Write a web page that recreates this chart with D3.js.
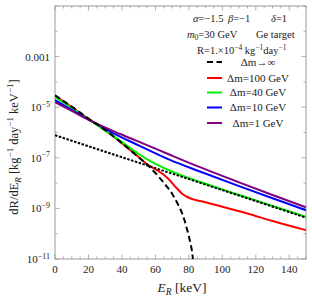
<!DOCTYPE html>
<html>
<head>
<meta charset="utf-8">
<script src="https://cdn.jsdelivr.net/npm/d3@7/dist/d3.min.js"></script>
<style>
html,body{margin:0;padding:0;background:#fff;}
svg{display:block;font-family:"Liberation Serif","DejaVu Serif",serif;}
</style>
</head>
<body>
<svg id="chart" width="312" height="299"></svg>
<script>
// ---- data ----
const xTicks = [0, 20, 40, 60, 80, 100, 120, 140];
const yTickExps = [-11, -9, -7, -5, -3];
const yTickLabels = ["10|−11", "10|−9", "10|−7", "10|−5", "0.001"];

// black dashed: Δm→∞
const E_inf    = [0, 10, 20, 30, 40, 50, 56, 62, 67, 70, 73, 76, 79, 81, 82, 82.7];
const rate_inf = [2.95e-5, 1.05e-5, 3.55e-6, 1.26e-6, 3.8e-7, 1.05e-7, 4.7e-8, 1.78e-8, 7.1e-9, 3.8e-9, 1.66e-9, 6.3e-10, 1.41e-10, 4.0e-11, 1.78e-11, 6.3e-12];

// black dotted reference curve
const E_dot    = [0, 30, 60, 90, 120, 150];
const rate_dot = [7.8e-7, 1.74e-7, 3.9e-8, 8.7e-9, 1.95e-9, 4.3e-10];

// red: Δm=100 GeV
const E_100    = [0, 10, 20, 30, 40, 50, 56, 60, 64, 68, 72, 76, 80, 84, 88, 100, 115, 130, 150];
const rate_100 = [2.82e-5, 1.0e-5, 3.47e-6, 1.23e-6, 3.8e-7, 1.07e-7, 5.0e-8, 3.55e-8, 2.4e-8, 1.41e-8, 7.1e-9, 3.8e-9, 2.63e-9, 2.14e-9, 1.86e-9, 1.17e-9, 6.3e-10, 3.16e-10, 1.38e-10];

// green: Δm=40 GeV
const E_40    = [0, 10, 22, 30, 39, 50, 57, 65, 75, 87, 100, 120, 150];
const rate_40 = [2.51e-5, 9.3e-6, 2.75e-6, 1.17e-6, 4.7e-7, 1.41e-7, 7.4e-8, 3.98e-8, 2.09e-8, 1.1e-8, 5.6e-9, 2.04e-9, 4.7e-10];

// blue: Δm=10 GeV
const E_10    = [0, 10, 22, 35, 50, 69, 87, 110, 130, 150];
const rate_10 = [1.91e-5, 7.9e-6, 2.75e-6, 9.3e-7, 3.1e-7, 8.1e-8, 2.82e-8, 7.6e-9, 2.51e-9, 8.5e-10];

// purple: Δm=1 GeV
const E_1    = [0, 10, 22, 39, 55, 69, 87, 110, 130, 150];
const rate_1 = [1.58e-5, 7.1e-6, 2.75e-6, 8.7e-7, 3.16e-7, 1.29e-7, 4.17e-8, 1.07e-8, 3.4e-9, 1.1e-9];

const legendLabels = ["Δm→∞", "Δm=100 GeV", "Δm=40 GeV", "Δm=10 GeV", "Δm=1 GeV"];

// ---- layout ----
const svg = d3.select("#chart");
const L = 55, R = 306, T = 6, B = 259;
const x = d3.scaleLinear().domain([0, 150]).range([L, R]);
const y = d3.scaleLog().domain([1e-11, 1e-1]).range([B, T]);
const frameColor = "#9a9a9a";

svg.append("defs").append("clipPath").attr("id", "clip")
  .append("rect").attr("x", L).attr("y", T).attr("width", R - L).attr("height", B - T);

// frame
svg.append("rect").attr("x", L).attr("y", T).attr("width", R - L).attr("height", B - T)
  .attr("fill", "none").attr("stroke", frameColor).attr("stroke-width", 1);

// ticks
const tk = svg.append("g").attr("stroke", frameColor).attr("stroke-width", 0.8);
for (let v = 0; v <= 150; v += 5) {
  const major = v % 20 === 0;
  const len = major ? 4.5 : 2.5;
  const xx = x(v);
  tk.append("line").attr("x1", xx).attr("x2", xx).attr("y1", B).attr("y2", B - len);
  tk.append("line").attr("x1", xx).attr("x2", xx).attr("y1", T).attr("y2", T + len);
}
for (let e = -11; e <= -1; e++) {
  const major = yTickExps.includes(e);
  const len = major ? 4.5 : 2.5;
  const yy = y(Math.pow(10, e));
  tk.append("line").attr("x1", L).attr("x2", L + len).attr("y1", yy).attr("y2", yy);
  tk.append("line").attr("x1", R).attr("x2", R - len).attr("y1", yy).attr("y2", yy);
}

// x tick labels
svg.append("g").selectAll("text").data(xTicks).join("text")
  .attr("x", d => x(d)).attr("y", 273).attr("text-anchor", "middle")
  .attr("font-size", 11).attr("fill", "#222").text(d => d);

// y tick labels
yTickExps.forEach((e, i) => {
  const parts = yTickLabels[i].split("|");
  const t = svg.append("text").attr("x", 50).attr("y", y(Math.pow(10, e)) + 4)
    .attr("text-anchor", "end").attr("font-size", 11).attr("fill", "#222");
  t.append("tspan").text(parts[0]);
  if (parts[1]) t.append("tspan").attr("dy", -4.5).attr("font-size", 8).text(parts[1]);
});

// axis labels
const xl = svg.append("text").attr("x", 182).attr("y", 292).attr("text-anchor", "middle")
  .attr("font-size", 13.5).attr("fill", "#222");
xl.append("tspan").attr("font-style", "italic").text("E");
xl.append("tspan").attr("font-style", "italic").attr("font-size", 9.5).attr("dy", 3).text("R");
xl.append("tspan").attr("dy", -3).text(" [keV]");

const yl = svg.append("text").attr("transform", "translate(18,147) rotate(-90)")
  .attr("text-anchor", "middle").attr("font-size", 12.5).attr("fill", "#222");
yl.append("tspan").text("dR/dE");
yl.append("tspan").attr("font-style", "italic").attr("font-size", 9).attr("dy", 2.5).text("R");
yl.append("tspan").attr("dy", -2.5).text(" [kg");
yl.append("tspan").attr("font-size", 9).attr("dy", -5).text("−1");
yl.append("tspan").attr("dy", 5).text(" day");
yl.append("tspan").attr("font-size", 9).attr("dy", -5).text("−1");
yl.append("tspan").attr("dy", 5).text(" keV");
yl.append("tspan").attr("font-size", 9).attr("dy", -5).text("−1");
yl.append("tspan").attr("dy", 5).text("]");

// curves
const line = d3.line().x(d => x(d[0])).y(d => y(d[1])).curve(d3.curveMonotoneX);
const zip = (a, b) => a.map((v, i) => [v, b[i]]);
const g = svg.append("g").attr("clip-path", "url(#clip)").attr("fill", "none");
const series = [
  {xs: E_100, ys: rate_100, color: "#ff0000", dash: null},
  {xs: E_40,  ys: rate_40,  color: "#00ee00", dash: null},
  {xs: E_10,  ys: rate_10,  color: "#0000ff", dash: null},
  {xs: E_1,   ys: rate_1,   color: "#800080", dash: null},
  {xs: E_dot, ys: rate_dot, color: "#000", dash: "2.5,1.5"},
  {xs: E_inf, ys: rate_inf, color: "#000", dash: "6,3.5"}
];
series.forEach(s => {
  g.append("path").attr("d", line(zip(s.xs, s.ys)))
    .attr("stroke", s.color).attr("stroke-width", 2)
    .attr("stroke-dasharray", s.dash);
});

// parameter text
const p1 = svg.append("text").attr("y", 21.5).attr("font-size", 10.5).attr("fill", "#222");
p1.append("tspan").attr("x", 193).attr("font-style", "italic").text("α");
p1.append("tspan").text("=−1.5");
p1.append("tspan").attr("x", 228).attr("font-style", "italic").text("β");
p1.append("tspan").text("=−1");
p1.append("tspan").attr("x", 271).attr("font-style", "italic").text("δ");
p1.append("tspan").text("=1");

const p2 = svg.append("text").attr("y", 37.5).attr("font-size", 10.5).attr("fill", "#222");
p2.append("tspan").attr("x", 187).attr("font-style", "italic").text("m");
p2.append("tspan").attr("font-size", 7.5).attr("dy", 2).text("0");
p2.append("tspan").attr("dy", -2).text("=30 GeV");
p2.append("tspan").attr("x", 256).text("Ge target");

const p3 = svg.append("text").attr("y", 53.5).attr("font-size", 10.5).attr("fill", "#222");
p3.append("tspan").attr("x", 197).text("R=1.×10");
p3.append("tspan").attr("font-size", 7.5).attr("dy", -4).text("−4");
p3.append("tspan").attr("dy", 4).text(" kg");
p3.append("tspan").attr("font-size", 7.5).attr("dy", -4).text("−1");
p3.append("tspan").attr("dy", 4).text("day");
p3.append("tspan").attr("font-size", 7.5).attr("dy", -4).text("−1");

// legend
const legY = [62, 78, 92.5, 107.5, 123];
const legColors = ["#000", "#ff0000", "#00ee00", "#0000ff", "#800080"];
legendLabels.forEach((lab, i) => {
  svg.append("line").attr("x1", 207).attr("x2", 222).attr("y1", legY[i]).attr("y2", legY[i])
    .attr("stroke", legColors[i]).attr("stroke-width", 2)
    .attr("stroke-dasharray", i === 0 ? "6,3.5" : null);
  svg.append("text").attr("x", 258).attr("y", legY[i] + 3.5).attr("text-anchor", "middle")
    .attr("font-size", 11).attr("fill", "#222").text(lab);
});
</script>
</body>
</html>
